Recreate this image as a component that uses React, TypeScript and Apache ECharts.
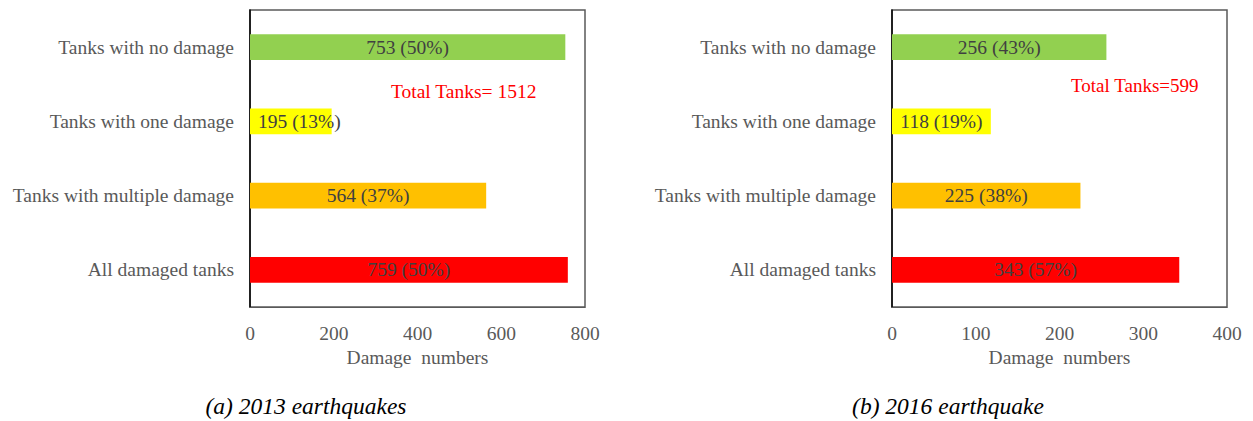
import React, { useEffect, useRef } from "react";
import * as echarts from "echarts";

const categories = [
  "Tanks with no damage",
  "Tanks with one damage",
  "Tanks with multiple damage",
  "All damaged tanks",
];
const values2013 = [753, 195, 564, 759];
const pct2013 = [50, 13, 37, 50];
const values2016 = [256, 118, 225, 343];
const pct2016 = [43, 19, 38, 57];
const barColors = ["#92D050", "#FFFF00", "#FFC000", "#FF0000"];
const total2013 = "Total Tanks= 1512";
const total2016 = "Total Tanks=599";
const caption2013 = "(a) 2013 earthquakes";
const caption2016 = "(b) 2016 earthquake";
const axisName = "Damage  numbers";

const FONT = "'Liberation Serif', 'Times New Roman', serif";

export default function App() {
  const ref = useRef<HTMLDivElement>(null);
  useEffect(() => {
    if (!ref.current) return;
    const chart = echarts.init(ref.current, undefined, { renderer: "svg" });
    const labelFmt = (pcts: number[]) => (p: any) => `${p.value} (${pcts[p.dataIndex]}%)`;
    const xAxisCommon = {
      type: "value",
      axisTick: { show: false },
      splitLine: { show: false },
      axisLine: { show: true, lineStyle: { color: "#595959" } },
      axisLabel: { margin: 16, color: "#595959", fontSize: 19.5, fontFamily: FONT },
      name: axisName,
      nameLocation: "middle",
      nameGap: 40,
      nameTextStyle: { color: "#595959", fontSize: 19.5, fontFamily: FONT },
    };
    const yAxisCommon = {
      type: "category",
      data: categories,
      inverse: true,
      axisTick: { show: false },
      axisLine: { show: true, lineStyle: { color: "#000", width: 1.5 } },
      axisLabel: { margin: 16, color: "#595959", fontSize: 19.5, fontFamily: FONT },
    };
    const seriesCommon = {
      type: "bar",
      barWidth: "35%",
      label: {
        show: true,
        position: "inside",
        color: "#404040",
        fontSize: 19.5,
        fontFamily: FONT,
      },
    };
    chart.setOption({
      animation: false,
      grid: [
        { left: 250, width: 335, top: 10, height: 297, show: true, borderColor: "#595959", borderWidth: 1.5 },
        { left: 892, width: 335, top: 10, height: 297, show: true, borderColor: "#595959", borderWidth: 1.5 },
      ],
      xAxis: [
        { ...xAxisCommon, gridIndex: 0, min: 0, max: 800, interval: 200 },
        { ...xAxisCommon, gridIndex: 1, min: 0, max: 400, interval: 100 },
      ],
      yAxis: [
        { ...yAxisCommon, gridIndex: 0 },
        { ...yAxisCommon, gridIndex: 1 },
      ],
      series: [
        {
          ...seriesCommon,
          xAxisIndex: 0,
          yAxisIndex: 0,
          data: values2013.map((v, i) => ({
            value: v,
            itemStyle: { color: barColors[i] },
            label: i === 1 ? { position: "insideLeft", distance: 8 } : undefined,
          })),
          label: { ...seriesCommon.label, formatter: labelFmt(pct2013) },
        },
        {
          ...seriesCommon,
          xAxisIndex: 1,
          yAxisIndex: 1,
          data: values2016.map((v, i) => ({ value: v, itemStyle: { color: barColors[i] } })),
          label: { ...seriesCommon.label, formatter: labelFmt(pct2016) },
        },
      ],
      graphic: [
        {
          type: "text",
          x: 391,
          y: 91,
          style: { text: total2013, fill: "#FF0000", font: `19.5px ${FONT}`, verticalAlign: "middle" },
        },
        {
          type: "text",
          x: 1071,
          y: 85,
          style: { text: total2016, fill: "#FF0000", font: `19px ${FONT}`, verticalAlign: "middle" },
        },
        {
          type: "text",
          x: 306,
          y: 406,
          style: {
            text: caption2013,
            fill: "#000",
            font: `italic 23.5px ${FONT}`,
            align: "center",
            verticalAlign: "middle",
          },
        },
        {
          type: "text",
          x: 948,
          y: 406,
          style: {
            text: caption2016,
            fill: "#000",
            font: `italic 23.5px ${FONT}`,
            align: "center",
            verticalAlign: "middle",
          },
        },
      ],
    });
    return () => chart.dispose();
  }, []);
  return (
    <div
      ref={ref}
      style={{ position: "fixed", left: 0, top: 0, width: 1253, height: 421, background: "#fff" }}
    />
  );
}
